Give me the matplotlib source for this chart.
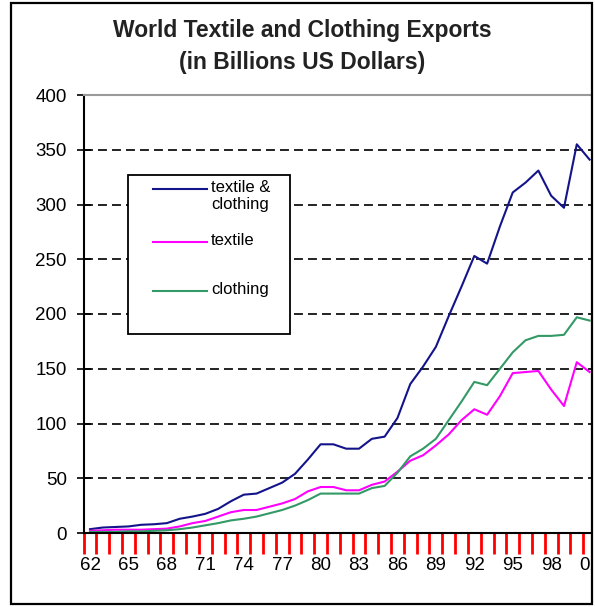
import matplotlib
matplotlib.use("Agg")
import matplotlib.pyplot as plt
from matplotlib.lines import Line2D
from matplotlib.patches import Rectangle
import numpy as np

# world exports, billions of US dollars, 1962-2001
years = list(range(1962, 2002))
total = [3.5, 5, 5.5, 6, 7.5, 8, 9, 13, 15, 17.5,
         22, 29, 35, 36, 41, 46, 54, 67, 81, 81,
         77, 77, 86, 88, 105, 136, 152, 170, 198, 225,
         253, 246, 280, 311, 320, 331, 308, 297, 355, 341]
textile = [2, 2.5, 3, 3, 3, 3.5, 4, 6, 9, 11,
           15, 19, 21, 21, 24, 27, 31, 38, 42, 42,
           39, 39, 44, 47, 56, 66, 71, 80, 90, 103,
           113, 108, 125, 146, 147, 148, 131, 116, 156, 147]
clothing = [1, 1, 1, 1.5, 1.5, 2, 2.5, 3.5, 5, 7,
            9, 11.5, 13, 15, 18, 21, 25, 30, 36, 36,
            36, 36, 41, 43, 55, 70, 77, 86, 103, 120,
            138, 135, 150, 165, 176, 180, 180, 181, 197, 194]
tick_years = years[::3]
tick_labels = ["%02d" % (y % 100) for y in tick_years]

W, H = 595, 607
FONT = "Liberation Sans"


def fx(x):
    return x / W


def fy(y):
    return 1 - y / H


fig = plt.figure(figsize=(W / 100, H / 100), dpi=100)
fig.patch.set_facecolor("white")

ax = fig.add_axes([fx(83.6), fy(533), (596 - 83.6) / W, (533 - 95) / H])
x = np.arange(len(years))

ax.plot(x, total, color="#14148a", lw=1.5, label="textile &\nclothing")
ax.plot(x, textile, color="#ff00ff", lw=1.5, label="textile")
ax.plot(x, clothing, color="#339966", lw=1.5, label="clothing")

ax.set_xlim(-0.5, len(years) - 0.5)
ax.set_ylim(0, 400)

# y axis: ticks crossing the axis, dashed grid
ax.set_yticks(range(0, 401, 50))
ax.tick_params(axis="y", direction="inout", length=10, width=1.2, pad=7,
               labelsize=13.5, colors="black")
ax.yaxis.grid(True, color="#222222", lw=1.4, linestyle=(0, (4.6, 2.6)))
gl = ax.get_ygridlines()
gl[0].set_visible(False)
gl[-1].set_visible(False)

# x axis: labels every third year, tick marks between the years
ax.set_xticks([years.index(y) for y in tick_years])
ax.set_xticklabels(tick_labels)
ax.set_xticks(np.arange(-0.5, len(years), 1), minor=True)
ax.tick_params(axis="x", which="major", length=0, pad=17, labelsize=13.5)
ax.tick_params(axis="x", which="minor", direction="out", length=15, width=2,
               color="red")

for lab in ax.get_xticklabels() + ax.get_yticklabels():
    lab.set_family(FONT)

ax.spines["right"].set_visible(False)
ax.spines["top"].set_color("#999999")
ax.spines["top"].set_linewidth(1.5)
ax.spines["left"].set_linewidth(1.5)
ax.spines["bottom"].set_linewidth(1.5)

# legend box
fig.patches.append(Rectangle((fx(128), fy(334)), fx(290) - fx(128), fy(175) - fy(334),
                             transform=fig.transFigure, facecolor="white",
                             edgecolor="black", lw=1.3, zorder=5))
handles, labels = ax.get_legend_handles_labels()
key_y = [189, 242, 291]
for h, lab, yy in zip(handles, labels, key_y):
    fig.lines.append(Line2D([fx(153), fx(207)], [fy(yy), fy(yy)], transform=fig.transFigure,
                            color=h.get_color(), lw=1.5, zorder=6))
    fig.text(fx(211), fy(yy - 9), lab, ha="left", va="top", fontsize=12,
             family=FONT, linespacing=1.2, zorder=6)

# title
fig.text(fx(302), fy(30), "World Textile and Clothing Exports", ha="center", va="center",
         fontsize=16.5, fontweight="bold", family=FONT, color="#222222")
fig.text(fx(302), fy(62), "(in Billions US Dollars)", ha="center", va="center",
         fontsize=16.5, fontweight="bold", family=FONT, color="#222222")

# white margin past the chart frame, then the frame itself
fig.patches.append(Rectangle((fx(593), 0), 1 - fx(593), 1, transform=fig.transFigure,
                             facecolor="white", edgecolor="none", zorder=8))
fig.patches.append(Rectangle((fx(11), fy(604)), fx(592) - fx(11), fy(3) - fy(604),
                             transform=fig.transFigure, facecolor="none",
                             edgecolor="black", lw=1.6, zorder=9))

fig.savefig("out.png", dpi=100)
